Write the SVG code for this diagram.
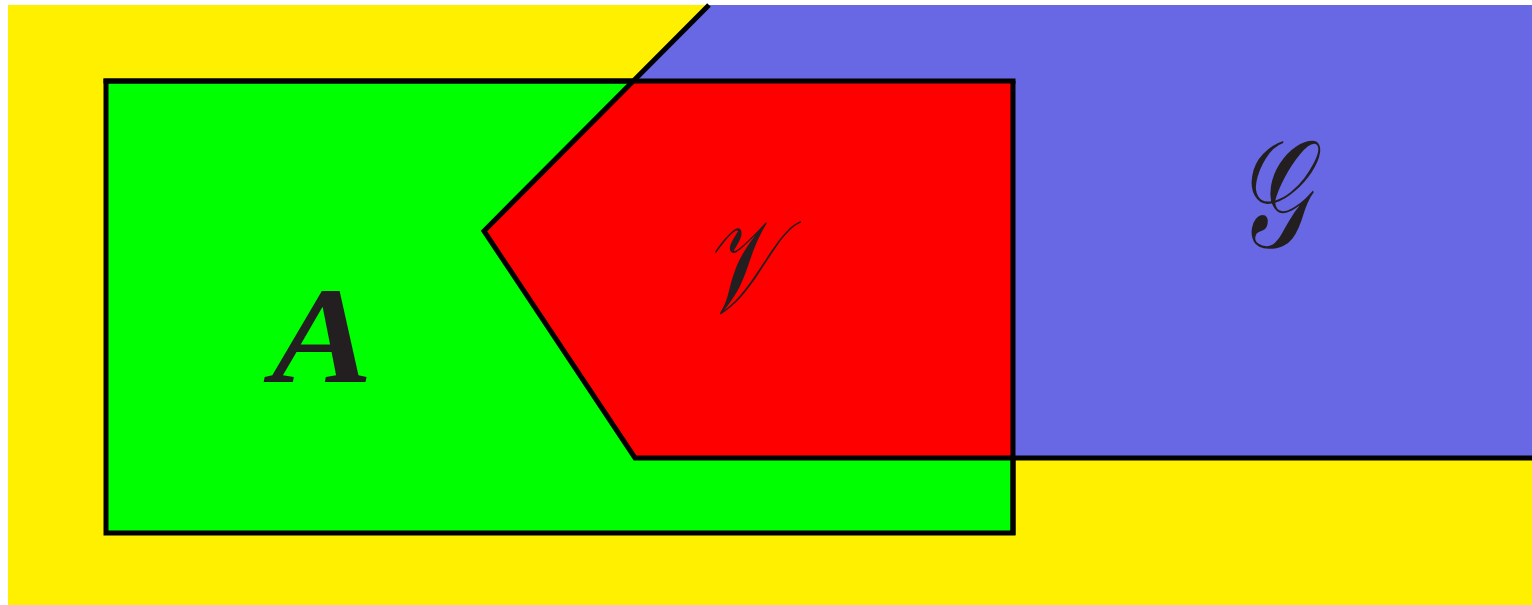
<svg xmlns="http://www.w3.org/2000/svg" width="1532" height="605" viewBox="0 0 1532 605">
<style>
.lbl{fill:#231f20;text-anchor:middle}
.edge{fill:none;stroke:#000;stroke-width:5}
.cal{font-family:"DejaVu Serif","DejaVu Sans",serif;font-style:italic;font-size:120px}
</style>
<rect x="0" y="0" width="1532" height="605" fill="#fff"/>
<g id="background"><rect x="8" y="5" width="1524" height="600" fill="#fff000"/></g>
<g id="nodeA">
<rect x="106" y="81" width="907" height="452" fill="#00ff00" stroke="#000" stroke-width="5"/>
</g>
<g id="nodeG">
<polygon points="709,5 1532,5 1532,458 635,458 484,231" fill="#6868e4"/>
</g>
<g id="nodeV">
<polygon points="633,81 1013,81 1013,458 635,458 484,231" fill="#ff0000"/>
</g>
<g id="connectors">
<polyline class="edge" points="709,5 484,231 635,458 1532,458"/>
<line class="edge" x1="1013" y1="81" x2="1013" y2="535"/>
<line class="edge" x1="103.5" y1="81" x2="1015.5" y2="81"/>
</g>
<text class="lbl" x="0" y="0" transform="translate(322,382) scale(1.1,1)" font-family="Liberation Serif, serif" font-style="italic" font-weight="bold" font-size="138">A</text>
<text class="lbl cal" x="0" y="0" transform="translate(738,312) scale(0.73,1.1)">𝒱</text>
<text class="lbl cal" x="0" y="0" transform="translate(1271,247) scale(0.84,1.27)">𝒢</text>
</svg>
